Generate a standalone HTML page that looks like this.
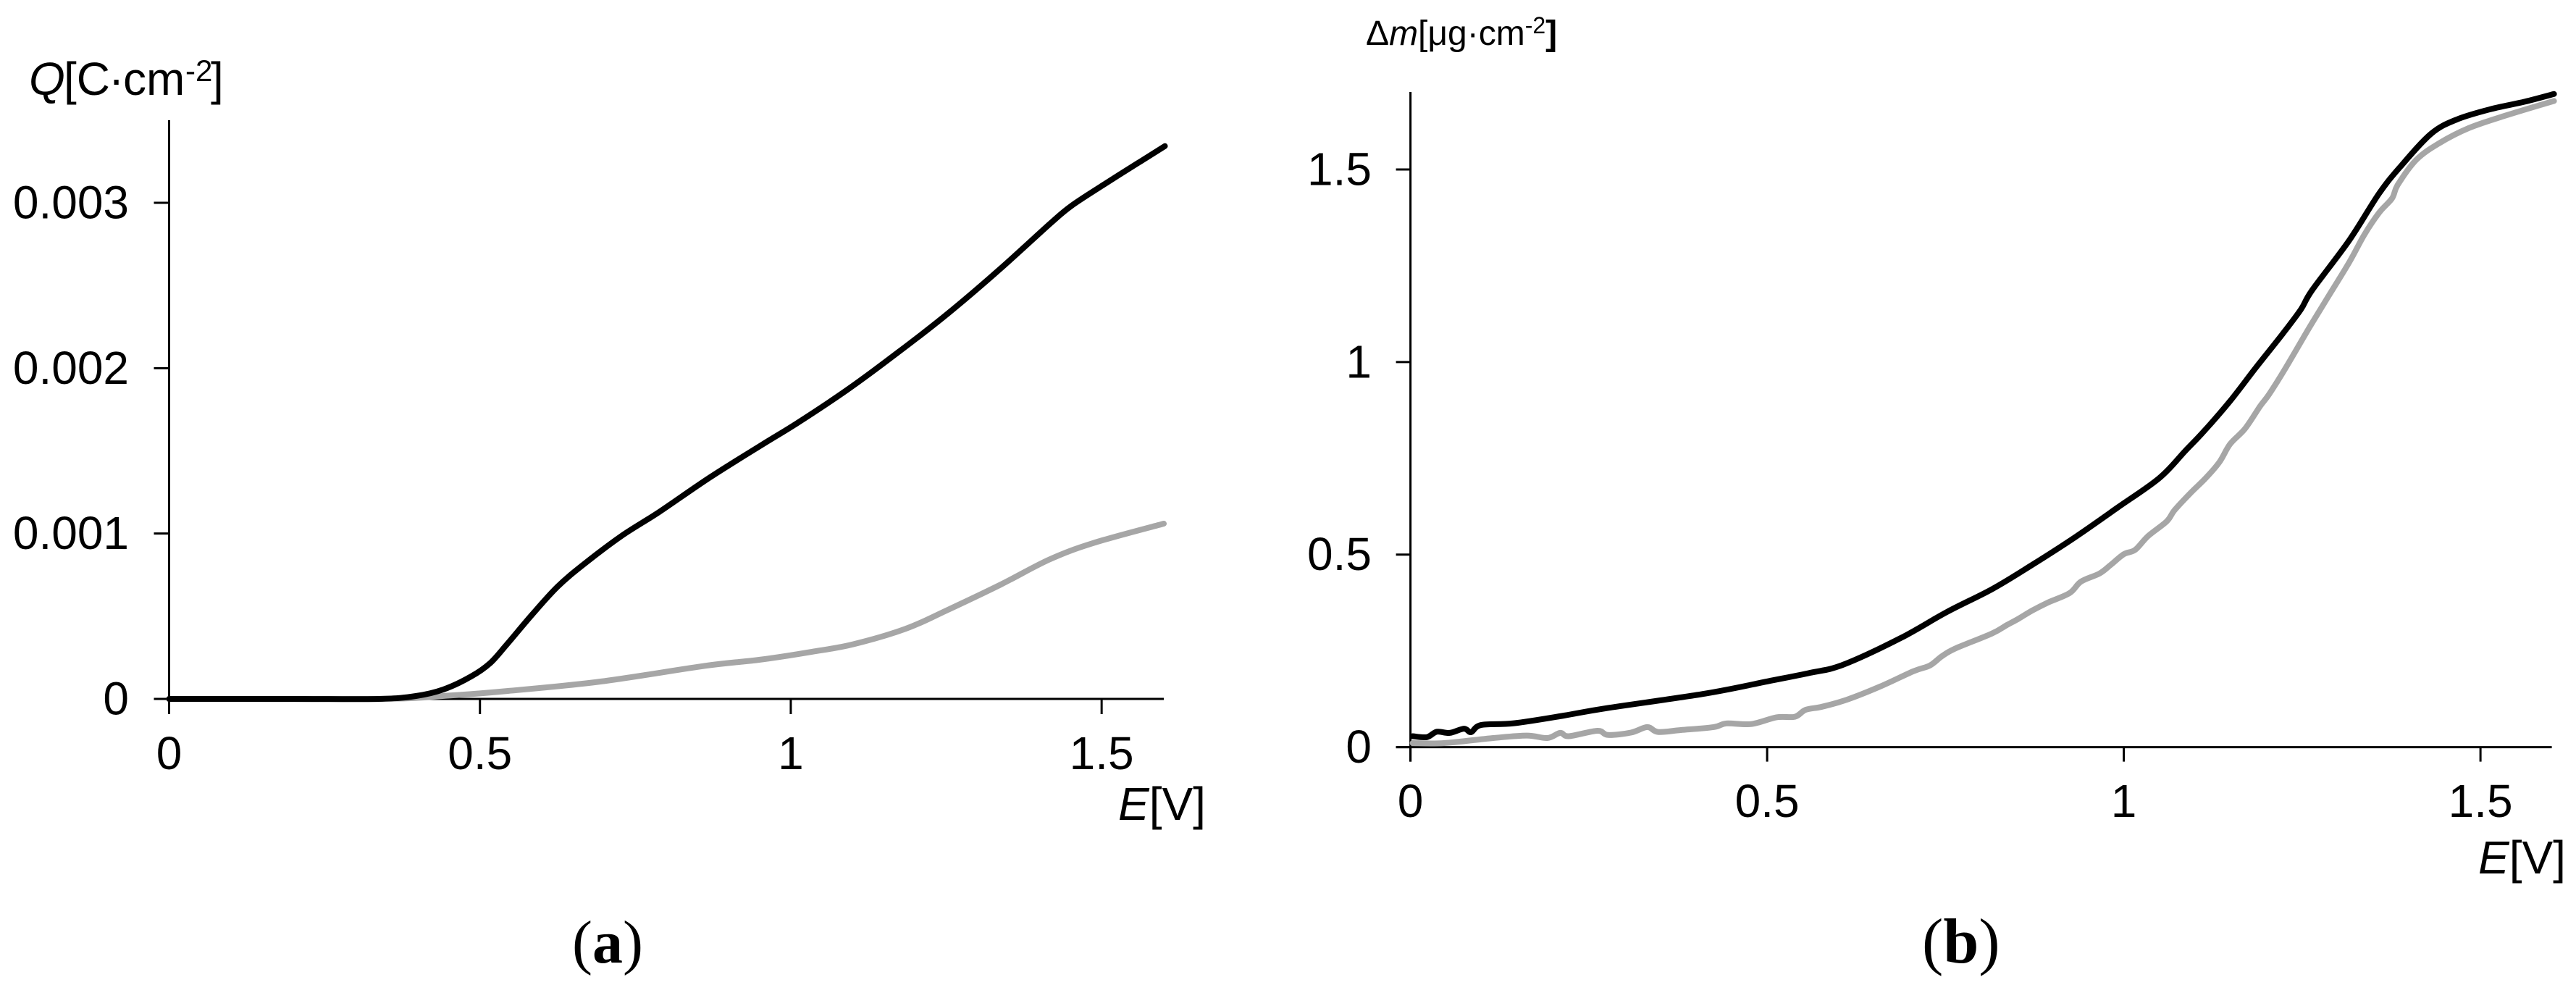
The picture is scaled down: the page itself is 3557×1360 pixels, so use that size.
<!DOCTYPE html>
<html lang="en">
<head>
<meta charset="utf-8">
<title>Charge and mass change versus potential</title>
<style>
html,body{margin:0;padding:0;background:#fff;width:3557px;height:1360px;overflow:hidden}
svg{display:block}
text{font-family:"Liberation Sans",sans-serif;fill:#000}
.serif{font-family:"Liberation Serif",serif}
</style>
</head>
<body>
<svg id="figure" xmlns="http://www.w3.org/2000/svg" width="3557" height="1360" viewBox="0 0 3557 1360">
  <rect x="0" y="0" width="3557" height="1360" fill="#fff"/>

  <g id="panel-a"></g>
  <g id="panel-b"></g>

  <text y="131" font-size="64"><tspan x="40" font-style="italic">Q</tspan><tspan x="88">[C</tspan><tspan x="150" >·</tspan><tspan x="170">cm</tspan><tspan x="256" y="112" font-size="42">-2</tspan><tspan x="291" y="131">]</tspan></text>
  <text x="1544" y="1132" font-size="64"><tspan font-style="italic">E</tspan>[V]</text>
  <text class="serif" x="790" y="1329" font-size="84">(<tspan font-weight="bold">a</tspan>)</text>

  <text y="62" font-size="48"><tspan x="1886">Δ</tspan><tspan font-style="italic">m</tspan><tspan>[μg·cm</tspan><tspan y="46" font-size="32">-2</tspan><tspan y="62" font-weight="bold">]</tspan></text>
  <text x="3422" y="1206" font-size="64"><tspan font-style="italic">E</tspan>[V]</text>
  <text class="serif" x="2654" y="1329" font-size="88">(<tspan font-weight="bold">b</tspan>)</text>
</svg>

<script>
// Panel (a): charge Q versus potential E
const aTickX = [0, 0.5, 1, 1.5];
const aTickXLabels = ['0', '0.5', '1', '1.5'];
const aTickY = [0, 0.001, 0.002, 0.003];
const aTickYLabels = ['0', '0.001', '0.002', '0.003'];

const aBlackE = [0, 0.2, 0.337, 0.397, 0.441, 0.486, 0.516, 0.5434, 0.5842, 0.6249, 0.6657, 0.7275, 0.7885, 0.8702, 0.952, 1.0087, 1.0908, 1.1724, 1.2545, 1.3362, 1.4178, 1.4508, 1.4998, 1.5609, 1.6018];
const aBlackQ = [0, 0, 0, 0.0000175, 0.000057, 0.000136, 0.000215, 0.00033, 0.000511, 0.000679, 0.00081, 0.000985, 0.001131, 0.00134, 0.001533, 0.001664, 0.001869, 0.002095, 0.002336, 0.002598, 0.002876, 0.00298, 0.003101, 0.003246, 0.003343];

const aGrayE = [0, 0.337, 0.45, 0.545, 0.694, 0.862, 0.95, 1.034, 1.1, 1.184, 1.25, 1.338, 1.416, 1.487, 1.6];
const aGrayQ = [0, 0, 0.00002, 0.000048, 0.000105, 0.0002, 0.000237, 0.000285, 0.00033, 0.000423, 0.000534, 0.000692, 0.000843, 0.000943, 0.00106];

// Panel (b): mass change versus potential E
const bTickX = [0, 0.5, 1, 1.5];
const bTickXLabels = ['0', '0.5', '1', '1.5'];
const bTickY = [0, 0.5, 1, 1.5];
const bTickYLabels = ['0', '0.5', '1', '1.5'];

const bBlackE = [0.003, 0.023, 0.037, 0.055, 0.075, 0.085, 0.099, 0.145, 0.215, 0.274, 0.413, 0.501, 0.56, 0.606, 0.687, 0.752, 0.815, 0.867, 0.93, 0.992, 1.05, 1.086, 1.112, 1.149, 1.185, 1.222, 1.248, 1.264, 1.316, 1.358, 1.389, 1.431, 1.467, 1.515, 1.562, 1.603];
const bBlackM = [0.0284, 0.026, 0.04, 0.037, 0.048, 0.039, 0.0575, 0.062, 0.082, 0.101, 0.139, 0.171, 0.193, 0.2136, 0.283, 0.351, 0.41, 0.468, 0.543, 0.623, 0.699, 0.769, 0.8195, 0.8987, 0.985, 1.0715, 1.136, 1.1865, 1.316, 1.438, 1.51, 1.593, 1.63, 1.657, 1.676, 1.696];

const bGrayE = [0.003, 0.047, 0.116, 0.163, 0.192, 0.21, 0.222, 0.262, 0.277, 0.309, 0.332, 0.347, 0.379, 0.425, 0.443, 0.478, 0.513, 0.539, 0.554, 0.577, 0.612, 0.658, 0.705, 0.728, 0.745, 0.763, 0.815, 0.836, 0.851, 0.872, 0.893, 0.924, 0.94, 0.966, 0.982, 1, 1.016, 1.034, 1.06, 1.071, 1.092, 1.115, 1.134, 1.149, 1.17, 1.191, 1.204, 1.227, 1.259, 1.285, 1.316, 1.337, 1.358, 1.376, 1.384, 1.41, 1.442, 1.483, 1.535, 1.603];
const bGrayM = [0.0105, 0.0105, 0.0237, 0.03, 0.0237, 0.037, 0.0284, 0.0425, 0.0316, 0.0378, 0.052, 0.0395, 0.0444, 0.052, 0.0617, 0.06, 0.0775, 0.079, 0.097, 0.105, 0.1234, 0.157, 0.197, 0.212, 0.236, 0.2555, 0.295, 0.317, 0.332, 0.355, 0.375, 0.4, 0.43, 0.451, 0.474, 0.501, 0.5125, 0.548, 0.586, 0.615, 0.657, 0.699, 0.74, 0.787, 0.827, 0.885, 0.917, 0.985, 1.086, 1.165, 1.259, 1.33, 1.388, 1.425, 1.46, 1.525, 1.568, 1.607, 1.64, 1.678];

const NS = 'http://www.w3.org/2000/svg';

function makeScale(d0, r0, d1, r1) {
  return function (v) { return r0 + (v - d0) * (r1 - r0) / (d1 - d0); };
}

function addLine(parent, name, x1, y1, x2, y2, width) {
  const el = document.createElementNS(NS, 'line');
  
  
  el.setAttribute('x1', x1);
  el.setAttribute('y1', y1);
  el.setAttribute('x2', x2);
  el.setAttribute('y2', y2);
  el.setAttribute('stroke', '#000');
  el.setAttribute('stroke-width', width);
  parent.appendChild(el);
}

function addText(parent, name, x, y, anchor, label) {
  const el = document.createElementNS(NS, 'text');
  
  
  el.setAttribute('x', x);
  el.setAttribute('y', y);
  el.setAttribute('text-anchor', anchor);
  el.setAttribute('font-size', '64');
  el.textContent = label;
  parent.appendChild(el);
}

// Smooth path through the data points (Catmull-Rom to cubic Bezier)
function smoothPath(xs, ys, sx, sy) {
  const px = xs.map(sx);
  const py = ys.map(sy);
  let d = 'M' + px[0].toFixed(1) + ' ' + py[0].toFixed(1);
  for (let i = 0; i < px.length - 1; i++) {
    const a = Math.max(i - 1, 0);
    const b = Math.min(i + 2, px.length - 1);
    const c1x = px[i] + (px[i + 1] - px[a]) / 6;
    const c1y = py[i] + (py[i + 1] - py[a]) / 6;
    const c2x = px[i + 1] - (px[b] - px[i]) / 6;
    const c2y = py[i + 1] - (py[b] - py[i]) / 6;
    d += 'C' + c1x.toFixed(1) + ' ' + c1y.toFixed(1) + ' ' + c2x.toFixed(1) + ' ' + c2y.toFixed(1) + ' ' + px[i + 1].toFixed(1) + ' ' + py[i + 1].toFixed(1);
  }
  return d;
}

function addCurve(parent, name, xs, ys, sx, sy, color, width) {
  const el = document.createElementNS(NS, 'path');
  
  
  el.setAttribute('d', smoothPath(xs, ys, sx, sy));
  el.setAttribute('fill', 'none');
  el.setAttribute('stroke', color);
  el.setAttribute('stroke-width', width);
  el.setAttribute('stroke-linejoin', 'round');
  el.setAttribute('stroke-linecap', 'round');
  parent.appendChild(el);
}

function drawAxes(parent, prefix, sx, sy, xTicks, xLabels, yTicks, yLabels, o) {
  addLine(parent, prefix + '-y-axis', sx(0), o.top, sx(0), sy(0) + o.tick, o.axisW);
  addLine(parent, prefix + '-x-axis', sx(0) - o.tick, sy(0), sx(o.xMax), sy(0), o.axisW);
  xTicks.forEach(function (t, i) {
    addLine(parent, prefix + '-x-tick', sx(t), sy(0), sx(t), sy(0) + o.tick, o.axisW);
    addText(parent, prefix + '-x-tick-label', sx(t), o.xBase, 'middle', xLabels[i]);
  });
  yTicks.forEach(function (t, i) {
    addLine(parent, prefix + '-y-tick', sx(0) - o.tick, sy(t), sx(0), sy(t), o.axisW);
    addText(parent, prefix + '-y-tick-label', o.yRight, sy(t) + 21.5, 'end', yLabels[i]);
  });
}

const panelA = document.getElementById('panel-a');
const axA = makeScale(0, 233.5, 1.6, 1607);
const ayA = makeScale(0, 965, 0.003, 280);
drawAxes(panelA, 'panel-a', axA, ayA, aTickX, aTickXLabels, aTickY, aTickYLabels, {
  top: 166, tick: 21, axisW: 3, xMax: 1.6, xBase: 1062, yRight: 178
});
addCurve(panelA, 'panel-a-gray-curve', aGrayE, aGrayQ, axA, ayA, '#a6a6a6', 8);
addCurve(panelA, 'panel-a-black-curve', aBlackE, aBlackQ, axA, ayA, '#000', 8);

const panelB = document.getElementById('panel-b');
const axB = makeScale(0, 1947.6, 1.6, 3523.6);
const ayB = makeScale(0, 1031.6, 1.5, 234);
drawAxes(panelB, 'panel-b', axB, ayB, bTickX, bTickXLabels, bTickY, bTickYLabels, {
  top: 127, tick: 20, axisW: 3, xMax: 1.6, xBase: 1128, yRight: 1894
});
addCurve(panelB, 'panel-b-gray-curve', bGrayE, bGrayM, axB, ayB, '#a6a6a6', 8);
addCurve(panelB, 'panel-b-black-curve', bBlackE, bBlackM, axB, ayB, '#000', 8);
</script>
</body>
</html>
